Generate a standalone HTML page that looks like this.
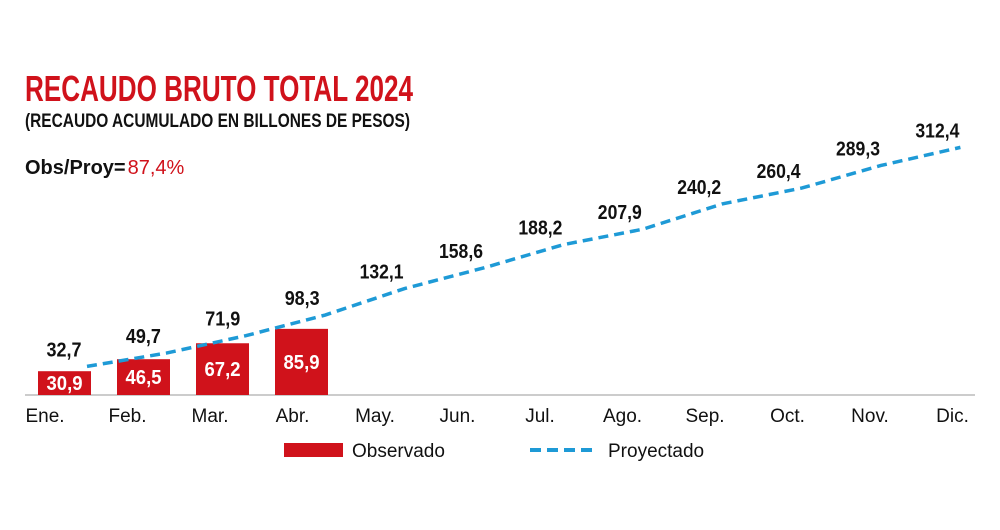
<!DOCTYPE html>
<html><head><meta charset="utf-8"><style>
body{margin:0;background:#fff;width:1000px;height:530px;overflow:hidden}
svg{display:block;font-family:"Liberation Sans Narrow","Liberation Sans",sans-serif}
</style></head><body>
<svg id="chart" width="1000" height="530">
<text x="25" y="101" font-size="36" font-weight="bold" fill="#d0121b" textLength="388" lengthAdjust="spacingAndGlyphs">RECAUDO BRUTO TOTAL 2024</text>
<text x="25" y="127" font-size="19" font-weight="bold" fill="#111" textLength="385" lengthAdjust="spacingAndGlyphs">(RECAUDO ACUMULADO EN BILLONES DE PESOS)</text>
<text x="25" y="174" font-size="20" fill="#111"><tspan font-weight="bold">Obs/Proy=</tspan><tspan fill="#d0121b" dx="2">87,4%</tspan></text>
<line x1="25" y1="395" x2="975" y2="395" stroke="#ccc" stroke-width="2"/>
<g id="bars"></g><g id="line"></g><g id="labels"></g>
<rect x="284" y="443" width="59" height="14" fill="#d0121b"/>
<text x="352" y="457" font-size="19" fill="#111">Observado</text>
<line x1="530" y1="450" x2="592" y2="450" stroke="#1e9ad6" stroke-width="4" stroke-dasharray="11,6"/>
<text x="608" y="457" font-size="19" fill="#111">Proyectado</text>
</svg>
<script>
const months=["Ene.","Feb.","Mar.","Abr.","May.","Jun.","Jul.","Ago.","Sep.","Oct.","Nov.","Dic."];
const observed=[30.9,46.5,67.2,85.9];
const projected=[32.7,49.7,71.9,98.3,132.1,158.6,188.2,207.9,240.2,260.4,289.3,312.4];
const NS="http://www.w3.org/2000/svg";
function barY(v){return 395-0.77*v;}
function lineY(v){return 392-0.783*v;}
function lineX(i){return 87+i*79.4;}
function barX(i){return 38+i*79;}
function mk(tag,attrs,parent,txt){const e=document.createElementNS(NS,tag);for(const k in attrs)e.setAttribute(k,attrs[k]);if(txt!==undefined)e.textContent=txt;document.getElementById(parent).appendChild(e);return e;}
observed.forEach((v,i)=>{
 const r=mk('rect',{x:barX(i),y:barY(v),width:53,height:395-barY(v),fill:'#d0121b'},'bars');
 
 
 const t=mk('text',{x:barX(i)+26.5,y:395-(395-barY(v))/2+7,'font-size':20,'font-weight':'bold',fill:'#fff','text-anchor':'middle',textLength:36,lengthAdjust:'spacingAndGlyphs'},'labels',String(v).replace('.',','));
 
 
});
const pts=projected.map((v,i)=>lineX(i)+','+lineY(v)).join(' ');
const pl=mk('polyline',{points:pts,fill:'none',stroke:'#1e9ad6','stroke-width':3.5,'stroke-dasharray':'10,6'},'line');


projected.forEach((v,i)=>{
 const s=v.toFixed(1).replace('.',',');
 const t=mk('text',{x:lineX(i)-23,y:lineY(v)-10,'font-size':20,'font-weight':'bold',fill:'#111','text-anchor':'middle',textLength:s.length>4?44:35,lengthAdjust:'spacingAndGlyphs'},'labels',s);
 
 
});
months.forEach((m,i)=>{
 const t=mk('text',{x:45+i*82.5,y:422,'font-size':19,fill:'#111','text-anchor':'middle'},'labels',m);
 
 
});
</script>
</body></html>
